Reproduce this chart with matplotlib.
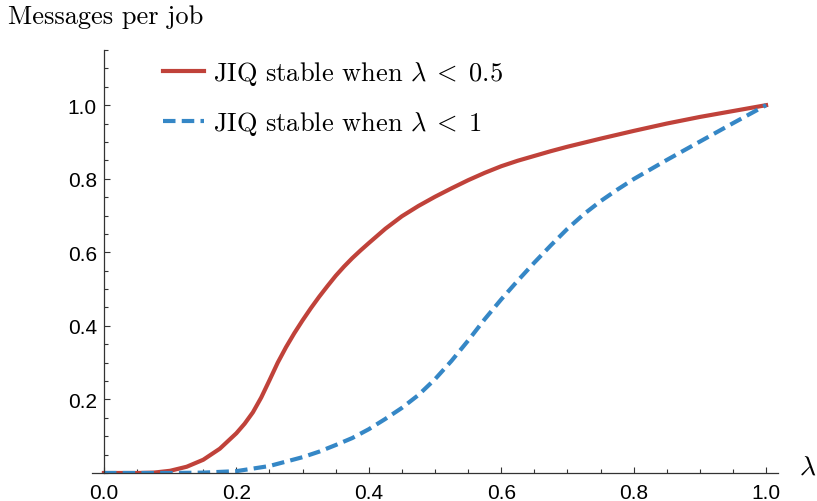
import matplotlib
matplotlib.use("Agg")
import matplotlib.pyplot as plt
from matplotlib.ticker import MultipleLocator, FixedLocator

# Curves
lam_red = [0.0, 0.05, 0.075, 0.1, 0.125, 0.15, 0.175, 0.2, 0.2125, 0.225, 0.2375, 0.25, 0.2625,
           0.275, 0.2875, 0.3, 0.3125, 0.325, 0.3375, 0.35, 0.3625, 0.375, 0.3875, 0.4, 0.425,
           0.45, 0.475, 0.5, 0.525, 0.55, 0.575, 0.6, 0.625, 0.65, 0.675, 0.7, 0.75, 0.8,
           0.85, 0.9, 0.95, 1.0]
msg_red = [0.0, 0.0, 0.001, 0.006, 0.017, 0.036, 0.066, 0.108, 0.134, 0.165, 0.205, 0.252, 0.3,
           0.342, 0.38, 0.415, 0.448, 0.479, 0.508, 0.536, 0.561, 0.584, 0.605, 0.625, 0.664,
           0.698, 0.726, 0.751, 0.774, 0.796, 0.816, 0.834, 0.849, 0.862, 0.875, 0.887, 0.909, 0.93,
           0.95, 0.968, 0.984, 1.0]

lam_blue = [0.0, 0.1, 0.15, 0.2, 0.25, 0.3, 0.325, 0.35, 0.375, 0.4, 0.425, 0.45, 0.475, 0.5,
            0.525, 0.55, 0.575, 0.6, 0.625, 0.65, 0.675, 0.7, 0.725, 0.75, 0.775, 0.8, 0.85,
            0.9, 0.95, 1.0]
msg_blue = [0.0, 0.0, 0.001, 0.005, 0.019, 0.043, 0.058, 0.076, 0.095, 0.119, 0.147, 0.177, 0.212,
            0.255, 0.305, 0.36, 0.418, 0.472, 0.523, 0.572, 0.619, 0.664, 0.704, 0.739, 0.77, 0.799,
            0.851, 0.901, 0.951, 1.0]

labels = [r'JIQ stable when $\lambda\;<\;0.5$', r'JIQ stable when $\lambda\;<\;1$']
red = '#c0423a'
blue = '#3587c6'

plt.rcParams['mathtext.fontset'] = 'cm'
serif = 'cmr10'
tick_font = 'Liberation Sans'

fig = plt.figure(figsize=(8.17, 5.02), dpi=100)
ax = fig.add_axes([92 / 817, 28 / 502, 686 / 817, 423 / 502])

ax.plot(lam_red, msg_red, color=red, lw=3, label=labels[0], solid_joinstyle='round')
ax.plot(lam_blue, msg_blue, color=blue, lw=3, dashes=(3.0, 1.5), label=labels[1])

ax.set_xlim(-0.018, 1.018)
ax.set_ylim(0, 1.15)

# Mathematica-style axes crossing at origin
ax.spines['top'].set_visible(False)
ax.spines['right'].set_visible(False)
ax.spines['left'].set_position(('data', 0))
ax.spines['left'].set_bounds(0, 1.15)
for s in ('left', 'bottom'):
    ax.spines[s].set_color('#333333')
    ax.spines[s].set_linewidth(0.9)

ax.xaxis.set_major_locator(FixedLocator([0.0, 0.2, 0.4, 0.6, 0.8, 1.0]))
ax.xaxis.set_minor_locator(MultipleLocator(0.05))
ax.yaxis.set_major_locator(FixedLocator([0.2, 0.4, 0.6, 0.8, 1.0]))
ax.yaxis.set_minor_locator(MultipleLocator(0.05))
ax.xaxis.set_major_formatter(plt.FuncFormatter(lambda v, p: f'{v:.1f}'))
ax.yaxis.set_major_formatter(plt.FuncFormatter(lambda v, p: f'{v:.1f}'))

ax.tick_params(which='both', direction='in', color='#333333', width=0.8)
ax.tick_params(which='major', length=4.5)
ax.tick_params(which='minor', length=2.8)
ax.tick_params(axis='x', which='major', pad=7)
ax.tick_params(axis='y', which='major', pad=5)
for t in ax.get_xticklabels() + ax.get_yticklabels():
    t.set_fontfamily(tick_font)
    t.set_fontsize(15)

fig.text(8 / 817, 1 - 17 / 502, 'Messages per job', fontfamily=serif, fontsize=19,
         ha='left', va='center')
fig.text(799 / 817, 1 - 467 / 502, r'$\lambda$', fontsize=20, ha='left', va='center')

leg = ax.legend(loc='upper left', bbox_to_anchor=(163 / 817, 1 - 60 / 502),
                bbox_transform=fig.transFigure, frameon=False, borderpad=0,
                borderaxespad=0, handlelength=1.55, handletextpad=0.35, labelspacing=0.85,
                prop={'family': serif, 'size': 19})

fig.savefig('out.png', dpi=100)
